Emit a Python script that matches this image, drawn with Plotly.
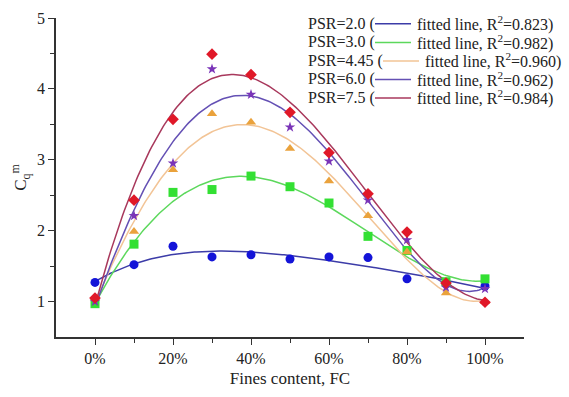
import numpy as np
import plotly.graph_objects as go

fc = [0, 10, 20, 30, 40, 50, 60, 70, 80, 90, 100]
psr_labels = ["PSR=2.0", "PSR=3.0", "PSR=4.45", "PSR=6.0", "PSR=7.5"]
r2_labels = ["0.823", "0.982", "0.960", "0.962", "0.984"]
cq_psr20 = [1.27, 1.52, 1.78, 1.63, 1.66, 1.60, 1.63, 1.62, 1.32, 1.25, 1.22]
cq_psr30 = [0.97, 1.81, 2.54, 2.58, 2.77, 2.62, 2.39, 1.92, 1.72, 1.28, 1.32]
cq_psr445 = [1.05, 1.99, 2.86, 3.65, 3.53, 3.16, 2.70, 2.21, 1.70, 1.12, 1.00]
cq_psr60 = [1.00, 2.21, 2.95, 4.28, 3.92, 3.46, 2.98, 2.43, 1.87, 1.20, 1.18]
cq_psr75 = [1.05, 2.43, 3.57, 4.49, 4.20, 3.67, 3.10, 2.52, 1.98, 1.26, 0.99]
series = [cq_psr20, cq_psr30, cq_psr445, cq_psr60, cq_psr75]

marker_colors = ["#1414d8", "#33e033", "#eaa23c", "#7a34b8", "#e01828"]
marker_symbols = ["circle", "square", "triangle-up", "star", "diamond"]
marker_sizes = [9, 9, 9, 8, 9]
line_colors = ["#3c3ca8", "#5cd85c", "#f2c496", "#6450b4", "#a8385c"]

W, H = 569, 397
L, R, T, B = 56, 45, 10, 60
pw, ph = W - L - R, H - T - B


def px(x):
    return (x - L) / pw


def py(y):
    return (H - B - y) / ph


fig = go.Figure()
xf = np.linspace(0, 100, 201)
for i, ys in enumerate(series):
    coef = np.polyfit(fc, ys, 4)
    fig.add_trace(go.Scatter(x=xf, y=np.polyval(coef, xf), mode="lines",
                             line=dict(color=line_colors[i], width=1.5),
                             showlegend=False, hoverinfo="skip"))
for i, ys in enumerate(series):
    fig.add_trace(go.Scatter(x=fc, y=ys, mode="markers",
                             marker=dict(color=marker_colors[i], symbol=marker_symbols[i],
                                         size=marker_sizes[i], line=dict(width=0)),
                             showlegend=False, name=psr_labels[i]))

font = "Liberation Serif, Times New Roman, serif"
annotations = []
shapes = []
row_y = [16, 35, 54, 73, 92]
line_x0 = [375, 375, 383, 375, 375]
for i in range(5):
    yy = py(row_y[i])
    annotations.append(dict(x=px(306), y=yy, xref="paper", yref="paper",
                            text=psr_labels[i] + " (", showarrow=False,
                            xanchor="left", yanchor="middle",
                            font=dict(family=font, size=16, color="#222")))
    shapes.append(dict(type="line", xref="paper", yref="paper",
                       x0=px(line_x0[i]), x1=px(line_x0[i] + 36), y0=yy, y1=yy,
                       line=dict(color=line_colors[i], width=1.5)))
    annotations.append(dict(x=px(line_x0[i] + 40), y=yy, xref="paper", yref="paper",
                            text="fitted line, R<sup>2</sup>=" + r2_labels[i] + ")",
                            showarrow=False, xanchor="left", yanchor="middle",
                            font=dict(family=font, size=16, color="#222")))

fig.update_layout(
    width=W, height=H,
    margin=dict(l=L, r=R, t=T, b=B, pad=0),
    paper_bgcolor="white", plot_bgcolor="white",
    font=dict(family=font, size=16, color="#222"),
    annotations=annotations, shapes=shapes,
    xaxis=dict(range=[-10, 110], tickvals=[0, 20, 40, 60, 80, 100],
               ticktext=["0%", "20%", "40%", "60%", "80%", "100%"],
               showgrid=False, zeroline=False, showline=True, linecolor="#333",
               linewidth=1.5, ticks="outside", ticklen=6, tickcolor="#333",
               tickwidth=1.2,
               minor=dict(tickvals=[10, 30, 50, 70, 90], ticks="outside",
                          ticklen=4, tickcolor="#333", tickwidth=1.2),
               tickfont=dict(family=font, size=16),
               title=dict(text="Fines content, FC", font=dict(family=font, size=17),
                          standoff=6)),
    yaxis=dict(range=[0.5, 5], tickvals=[1, 2, 3, 4, 5],
               showgrid=False, zeroline=False, showline=True, linecolor="#333",
               linewidth=1.5, ticks="outside", ticklen=6, tickcolor="#333",
               tickwidth=1.2,
               minor=dict(tickvals=[1.5, 2.5, 3.5, 4.5], ticks="outside",
                          ticklen=4, tickcolor="#333", tickwidth=1.2),
               tickfont=dict(family=font, size=16),
               title=dict(text="C<sub>q</sub><sup>m</sup>", font=dict(family=font, size=17),
                          standoff=6)),
)

fig.write_html("out.html")
